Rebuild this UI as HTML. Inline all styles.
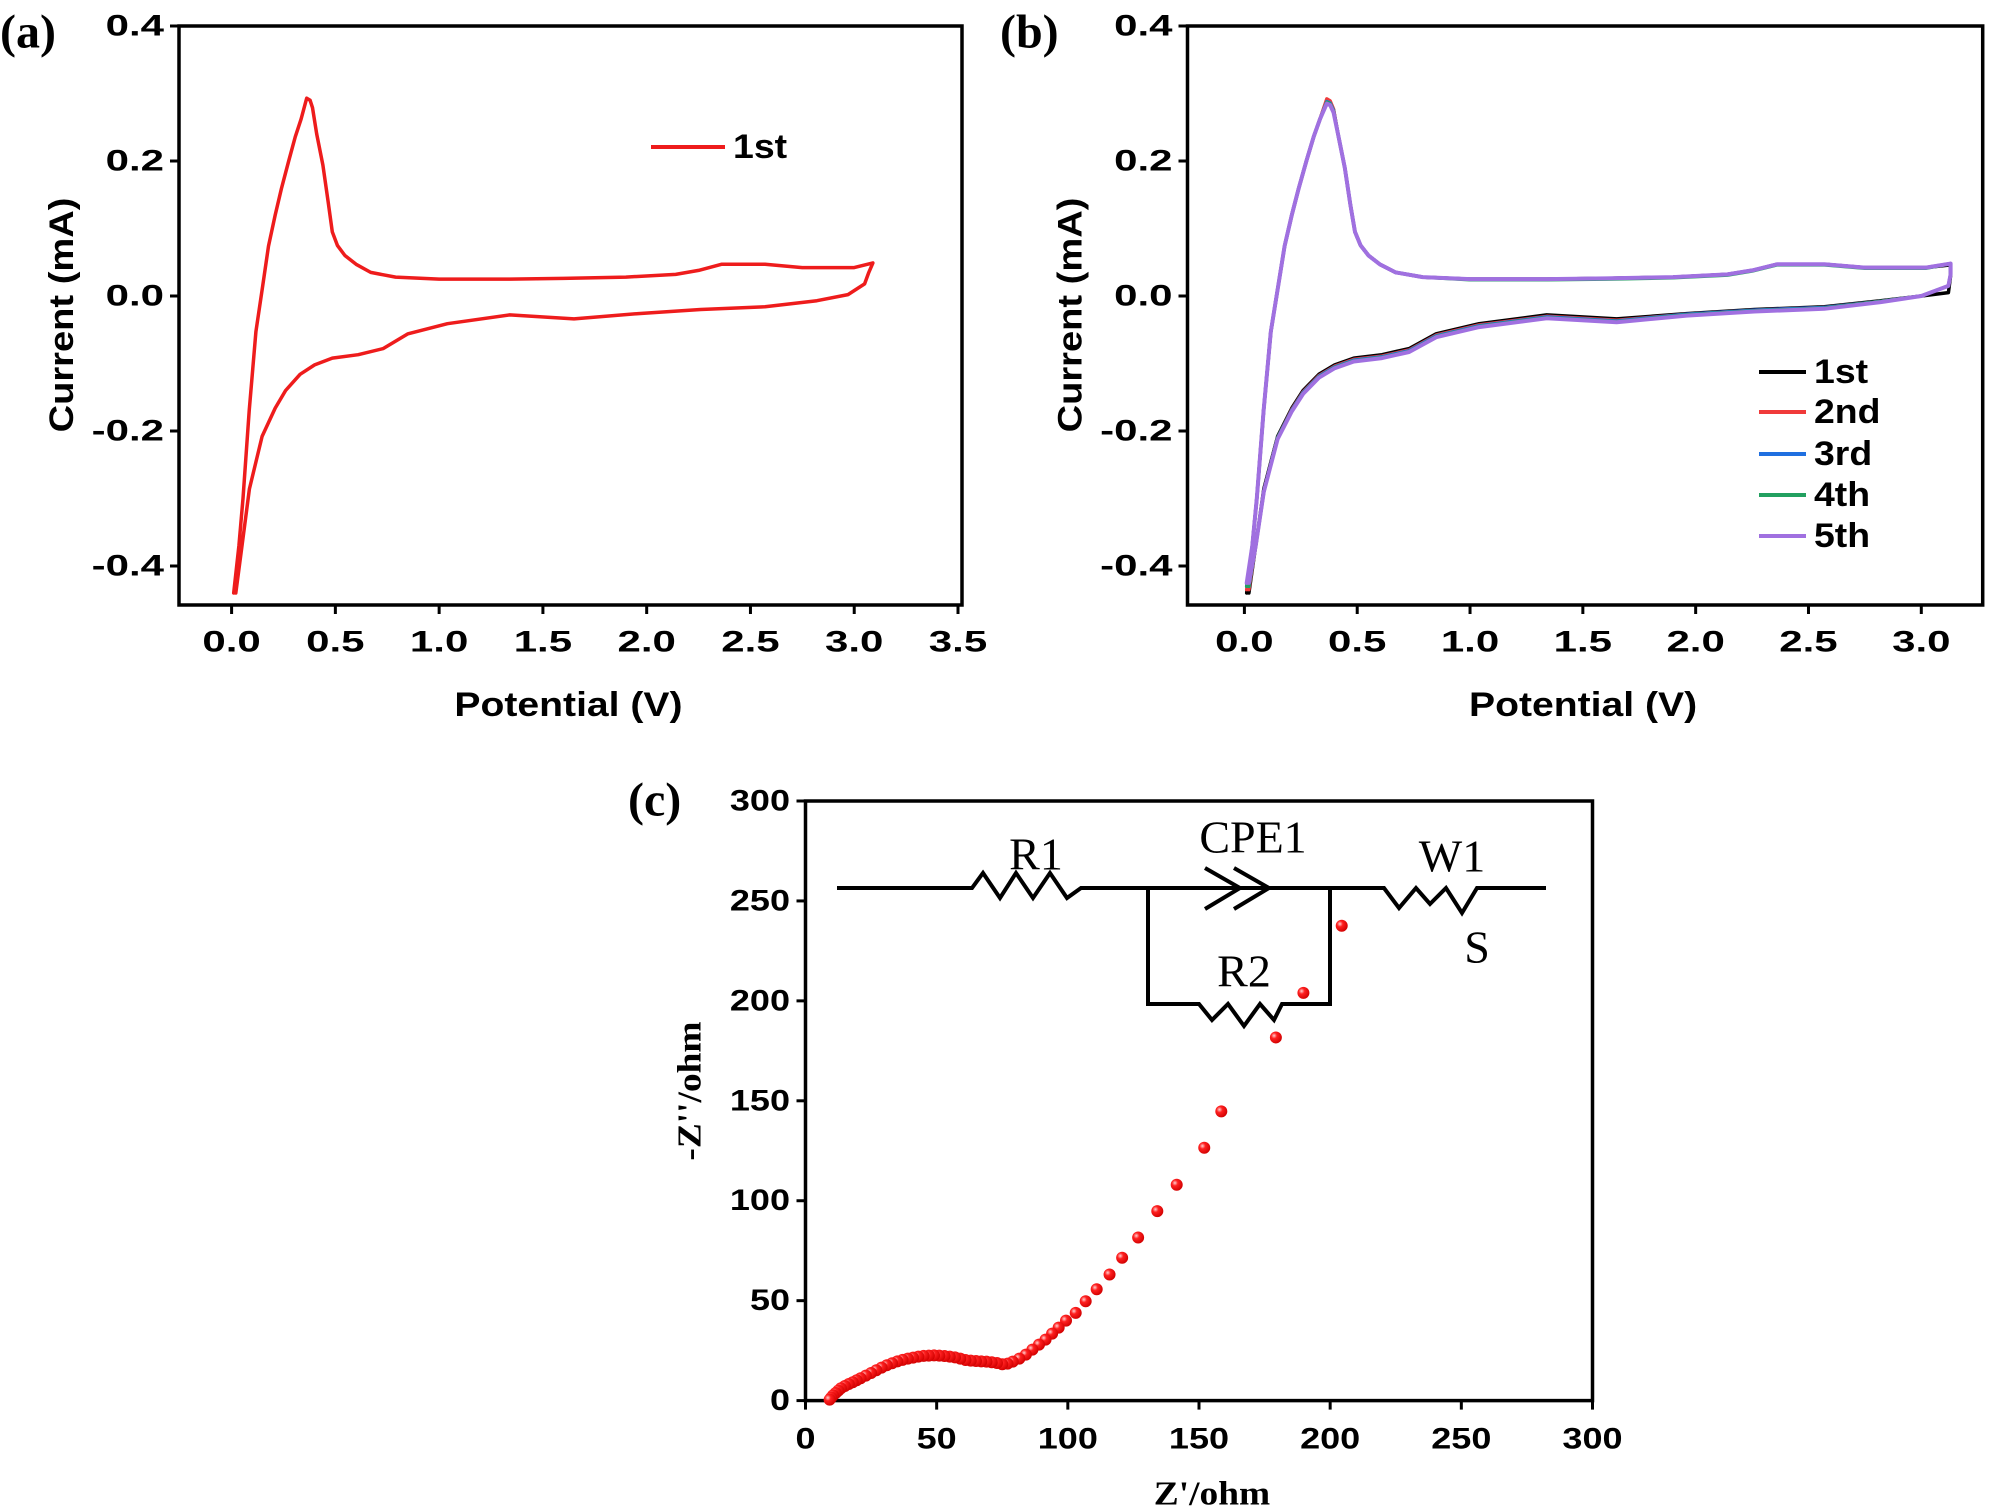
<!DOCTYPE html>
<html><head><meta charset="utf-8">
<style>
html,body{margin:0;padding:0;background:#fff;}
svg{display:block;}
.tk{font-family:"Liberation Sans",Arial,sans-serif;font-weight:bold;font-size:30px;fill:#000;}
.tt{font-family:"Liberation Sans",Arial,sans-serif;font-weight:bold;font-size:34px;fill:#000;}
.pl{font-family:"Liberation Serif",serif;font-weight:bold;font-size:48px;fill:#000;}
.st{font-family:"Liberation Serif",serif;font-weight:bold;font-size:34px;fill:#000;}
.cl{font-family:"Liberation Serif",serif;font-size:46px;fill:#000;}
</style></head>
<body>
<svg id="fig" width="2000" height="1510" viewBox="0 0 2000 1510" xmlns="http://www.w3.org/2000/svg">
<defs><radialGradient id="dotg" cx="0.35" cy="0.35" r="0.7"><stop offset="0" stop-color="#ffd0d0"/><stop offset="0.35" stop-color="#ff2020"/><stop offset="1" stop-color="#d00000"/></radialGradient></defs>
</svg>
<script>
// ---- Panel (a) data ----
const aV = [0.01,0.035,0.055,0.085,0.117,0.15,0.178,0.21,0.24,0.275,0.307,0.335,0.362,0.378,0.39,0.41,0.44,0.465,0.485,0.51,0.546,0.6,0.67,0.79,1.0,1.34,1.6,1.9,2.14,2.25,2.36,2.45,2.57,2.75,3.0,3.09,3.07,3.05,2.97,2.82,2.57,2.26,1.96,1.65,1.34,1.04,0.85,0.73,0.61,0.485,0.4,0.33,0.26,0.21,0.147,0.086,0.05,0.02];
const aI = [-0.44,-0.37,-0.30,-0.17,-0.053,0.015,0.074,0.12,0.159,0.2,0.236,0.262,0.293,0.29,0.279,0.24,0.194,0.14,0.095,0.075,0.06,0.047,0.035,0.028,0.025,0.025,0.026,0.028,0.032,0.038,0.047,0.047,0.047,0.042,0.042,0.049,0.035,0.018,0.002,-0.007,-0.016,-0.02,-0.026,-0.034,-0.028,-0.041,-0.056,-0.078,-0.087,-0.092,-0.102,-0.116,-0.14,-0.166,-0.208,-0.286,-0.37,-0.44];
// ---- Panel (b) data ----
const bV = [0.01,0.035,0.055,0.085,0.117,0.15,0.178,0.21,0.24,0.275,0.307,0.335,0.365,0.38,0.395,0.415,0.445,0.47,0.49,0.515,0.55,0.6,0.67,0.79,1.0,1.34,1.6,1.9,2.14,2.25,2.36,2.45,2.57,2.75,3.02,3.13,3.13,3.12,3.0,2.82,2.57,2.26,1.96,1.65,1.34,1.04,0.85,0.73,0.61,0.485,0.4,0.33,0.26,0.21,0.147,0.086,0.05,0.02];
const b1 = [-0.44,-0.37,-0.30,-0.17,-0.053,0.015,0.074,0.12,0.159,0.2,0.236,0.262,0.29,0.288,0.276,0.24,0.19,0.135,0.095,0.075,0.06,0.047,0.035,0.028,0.025,0.025,0.026,0.028,0.032,0.038,0.047,0.047,0.047,0.042,0.042,0.046,0.03,0.005,0.0,-0.007,-0.016,-0.02,-0.026,-0.034,-0.028,-0.041,-0.056,-0.078,-0.087,-0.092,-0.102,-0.116,-0.14,-0.166,-0.208,-0.286,-0.37,-0.44];
const b2 = [-0.435,-0.37,-0.30,-0.17,-0.053,0.015,0.074,0.12,0.159,0.2,0.236,0.262,0.292,0.289,0.277,0.24,0.19,0.135,0.095,0.075,0.06,0.047,0.035,0.028,0.025,0.025,0.026,0.028,0.032,0.038,0.047,0.047,0.047,0.042,0.042,0.048,0.032,0.015,0.0,-0.008,-0.017,-0.021,-0.027,-0.036,-0.03,-0.043,-0.058,-0.08,-0.089,-0.094,-0.104,-0.118,-0.142,-0.168,-0.21,-0.29,-0.37,-0.435];
const b3 = [-0.43,-0.37,-0.30,-0.17,-0.053,0.015,0.074,0.12,0.159,0.2,0.236,0.262,0.288,0.286,0.275,0.24,0.19,0.135,0.095,0.075,0.06,0.047,0.035,0.028,0.025,0.025,0.026,0.028,0.032,0.038,0.047,0.047,0.047,0.042,0.042,0.048,0.032,0.015,0.0,-0.008,-0.017,-0.021,-0.027,-0.037,-0.031,-0.044,-0.059,-0.081,-0.09,-0.095,-0.105,-0.119,-0.143,-0.169,-0.21,-0.29,-0.37,-0.43];
const b4 = [-0.43,-0.37,-0.30,-0.17,-0.053,0.015,0.074,0.12,0.159,0.2,0.236,0.262,0.287,0.285,0.274,0.24,0.19,0.135,0.095,0.075,0.06,0.047,0.035,0.028,0.024,0.024,0.025,0.027,0.031,0.037,0.046,0.046,0.046,0.041,0.041,0.048,0.032,0.015,0.0,-0.008,-0.018,-0.022,-0.028,-0.038,-0.032,-0.045,-0.06,-0.082,-0.091,-0.096,-0.106,-0.12,-0.144,-0.17,-0.21,-0.29,-0.37,-0.43];
const b5 = [-0.425,-0.37,-0.30,-0.17,-0.053,0.015,0.074,0.12,0.159,0.2,0.236,0.262,0.285,0.283,0.272,0.24,0.19,0.135,0.095,0.075,0.06,0.047,0.035,0.028,0.025,0.025,0.026,0.028,0.032,0.038,0.047,0.047,0.047,0.042,0.042,0.048,0.032,0.015,0.0,-0.009,-0.019,-0.023,-0.029,-0.039,-0.033,-0.046,-0.061,-0.083,-0.092,-0.097,-0.107,-0.121,-0.145,-0.171,-0.212,-0.29,-0.37,-0.425];
const bSeries = [b1,b2,b3,b4,b5];
const bNames = ["1st","2nd","3rd","4th","5th"];
const bColors = ["#000000","#f03a3a","#1f6fe0","#22a060","#a070e0"];
const cvYTicks = [0.4,0.2,0.0,-0.2,-0.4];
const cvYLabels = ["0.4","0.2","0.0","-0.2","-0.4"];
const aXTicks = [0,0.5,1,1.5,2,2.5,3,3.5];
const aXLabels = ["0.0","0.5","1.0","1.5","2.0","2.5","3.0","3.5"];
const bXTicks = [0,0.5,1,1.5,2,2.5,3];
const bXLabels = ["0.0","0.5","1.0","1.5","2.0","2.5","3.0"];
// ---- Panel (c) data ----
const zRe = [204.4,189.8,179.3,158.5,152,141.5,134.1,126.8,120.7,115.9,111,106.8,103,99.3,96.5,94,91.5,89,86.5,84,81.5,79,77,75,73,71,69,67,65,63,61,59,57,55,53,51,49,47,45,43,41,39,37,35,33,31,29,27,25,23,21,19.5,18,16.5,15,13.5,12.5,11.5,10.5,9.8,9.2];
const zIm = [237.6,204,181.7,144.7,126.5,108,94.8,81.6,71.5,63.1,55.7,49.7,43.9,40,36.5,33.5,30.5,28,25.5,23,21,19.5,18.5,18.2,18.8,19.2,19.5,19.6,19.8,20,20.3,21,21.6,22,22.3,22.5,22.6,22.5,22.4,22,21.5,21,20.4,19.6,18.7,17.7,16.5,15.2,13.8,12.5,11.2,10.2,9.2,8.3,7.3,6.2,5,3.8,2.6,1.5,0.5];
const cXTicks = [0,50,100,150,200,250,300];
const cYTicks = [0,50,100,150,200,250,300];

const NS = "http://www.w3.org/2000/svg";
const svg = document.getElementById("fig");
function mk(tag, attrs, parent){ const e=document.createElementNS(NS,tag); for(const k in attrs) e.setAttribute(k,attrs[k]); (parent||svg).appendChild(e); return e; }
function txt(x,y,s,cls,anchor,parent,stretch){
  const t=mk("text",{x:x,y:y,class:cls,"text-anchor":anchor||"middle","dominant-baseline":"central"},parent);
  t.textContent=s;
  if(stretch){ const w=t.getComputedTextLength(); if(w>0){ t.setAttribute("textLength",(w*stretch).toFixed(1)); t.setAttribute("lengthAdjust","spacingAndGlyphs"); } }
  return t;
}
function lin(d0,d1,r0,r1){ return v => r0+(v-d0)*(r1-r0)/(d1-d0); }

function cvPanel(id, box, xs, ys, xTicks, xLabels, label, labelX){
  const g = mk("g",{});
  
  
  const frame = mk("rect",{x:box.l,y:box.t,width:box.r-box.l,height:box.b-box.t,fill:"none",stroke:"#000","stroke-width":3.5},g);
  
  
  xTicks.forEach((v,i)=>{
    const x=xs(v);
    mk("line",{x1:x,y1:box.b,x2:x,y2:box.b+9,stroke:"#000","stroke-width":3},g);
    const t=txt(x,box.b+37,xLabels[i],"tk","middle",g,1.4);
    
    
  });
  cvYTicks.forEach((v,i)=>{
    const y=ys(v);
    mk("line",{x1:box.l-9,y1:y,x2:box.l,y2:y,stroke:"#000","stroke-width":3},g);
    const t=txt(box.l-15,y,cvYLabels[i],"tk","end",g,1.4);
    
    
  });
  const xt=txt((box.l+box.r)/2-2,705,"Potential (V)","tt","middle",g,1.15);
  
  
  const cx=box.l-117, cy=315;
  const yt=txt(cx,cy,"Current (mA)","tt","middle",g,1.12);
  yt.setAttribute("transform","rotate(-90 "+cx+" "+cy+")");
  
  
  const pl=txt(labelX,32,label,"pl","start",g);
  
  
  return g;
}
function curve(g, vs, is, xs, ys, color, w){
  let d="";
  vs.forEach((v,i)=>{ d+=(i?"L":"M")+xs(v).toFixed(1)+","+ys(is[i]).toFixed(1); });
  return mk("path",{d:d,fill:"none",stroke:color,"stroke-width":w,"stroke-linejoin":"round","stroke-linecap":"round"},g);
}

// Panel a
const boxA={l:179,r:962,t:26,b:605};
const xsA=lin(0,3.5,231.6,958), ysA=lin(0,0.4,296,26);
const gA=cvPanel("panel-a-cv-first-cycle",boxA,xsA,ysA,aXTicks,aXLabels,"(a)",0);
const cA=curve(gA,aV,aI,xsA,ysA,"#ee1c1c",3.5);


const legA=mk("g",{},gA);


mk("line",{x1:651,y1:147,x2:725,y2:147,stroke:"#ee1c1c","stroke-width":4},legA);
txt(733,147,"1st","tt","start",legA,1.1);

// Panel b
const boxB={l:1187.5,r:1982.7,t:26,b:605};
const xsB=lin(0,3,1244.4,1921.3), ysB=lin(0,0.4,296,26);
const gB=cvPanel("panel-b-cv-five-cycles",boxB,xsB,ysB,bXTicks,bXLabels,"(b)",1000);
bSeries.forEach((s,k)=>{
  const p=curve(gB,bV,s,xsB,ysB,bColors[k],k==4?4:3.5);
  
  
});
const legY=[372,412,454,495,536];
bNames.forEach((n,k)=>{
  const lg=mk("g",{},gB);
  
  
  mk("line",{x1:1759,y1:legY[k],x2:1806,y2:legY[k],stroke:bColors[k],"stroke-width":4},lg);
  txt(1814,legY[k],n,"tt","start",lg,1.1);
});

// Panel c
const boxC={l:805.5,r:1592.5,t:801,b:1400.6};
const xsC=lin(0,300,805.5,1592.5), ysC=lin(0,300,1400.6,801);
const gC=mk("g",{});


const fC=mk("rect",{x:boxC.l,y:boxC.t,width:boxC.r-boxC.l,height:boxC.b-boxC.t,fill:"none",stroke:"#000","stroke-width":3.5},gC);


cXTicks.forEach(v=>{
  const x=xsC(v);
  mk("line",{x1:x,y1:boxC.b,x2:x,y2:boxC.b+9,stroke:"#000","stroke-width":3},gC);
  const t=txt(x,1439,String(v),"tk","middle",gC,1.2);
  
  
});
cYTicks.forEach(v=>{
  const y=ysC(v);
  mk("line",{x1:boxC.l-9,y1:y,x2:boxC.l,y2:y,stroke:"#000","stroke-width":3},gC);
  const t=txt(790,y,String(v),"tk","end",gC,1.2);
  
  
});
const cxt=txt(1212,1494,"Z'/ohm","st","middle",gC,1.1);


const cyt=txt(690,1091,"-Z''/ohm","st","middle",gC,1.1);
cyt.setAttribute("transform","rotate(-90 690 1091)");


const cpl=txt(628,800,"(c)","pl","start",gC);


zRe.forEach((v,i)=>{
  const c=mk("circle",{cx:xsC(v),cy:ysC(zIm[i]),r:6,fill:"url(#dotg)"},gC);
  
  
});
const circ=mk("g",{fill:"none",stroke:"#000","stroke-width":4,"stroke-linejoin":"miter"},gC);


mk("path",{d:"M837,888 L972,888 L983,873 L1000,898 L1016,873 L1033,898 L1050,873 L1067,898 L1081,888 L1269,888"},circ);
mk("path",{d:"M1205,868 L1240,888 L1205,909 M1234,868 L1269,888 L1234,909"},circ);
mk("path",{d:"M1269,888 L1384,888 L1399,908 L1416,888 L1430,904 L1446,888 L1462,913 L1477,888 L1546,888"},circ);
mk("path",{d:"M1148,888 L1148,1004 L1199,1004 L1212,1020 L1228,1004 L1244,1026 L1260,1004 L1274,1020 L1282,1004 L1330,1004 L1330,888"},circ);
const labs=[["R1",1036,854],["CPE1",1253,837],["W1",1452,856],["S",1477,947],["R2",1244,971]];
labs.forEach(l=>{
  const t=txt(l[1],l[2],l[0],"cl","middle",gC);
  
  
});
</script>
</body></html>
